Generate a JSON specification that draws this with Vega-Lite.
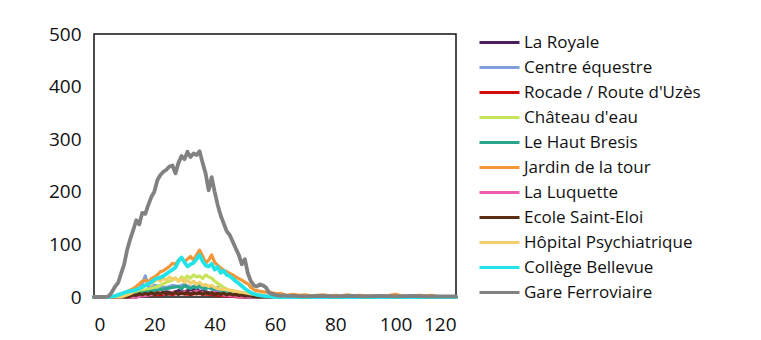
{
"$schema": "https://vega.github.io/schema/vega-lite/v6.json",
"autosize": "none",
"width": 362,
"height": 263,
"padding": {"left": 94, "top": 34, "right": 305, "bottom": 43},
"background": "#ffffff",
"config": {
  "view": {"stroke": "#111111", "strokeWidth": 1.5},
  "font": "Open Sans",
  "axis": {"grid": false, "ticks": false, "domain": false, "labelFont": "Open Sans", "labelFontSize": 19, "labelColor": "#111111", "title": null}
},
"data": {"values": [
{"s":"La Royale","x":0,"y":0},{"s":"La Royale","x":14,"y":0},{"s":"La Royale","x":16,"y":3},{"s":"La Royale","x":18,"y":5},{"s":"La Royale","x":20,"y":8},{"s":"La Royale","x":22,"y":6},{"s":"La Royale","x":24,"y":10},{"s":"La Royale","x":26,"y":8},{"s":"La Royale","x":28,"y":12},{"s":"La Royale","x":30,"y":10},{"s":"La Royale","x":32,"y":14},{"s":"La Royale","x":34,"y":16},{"s":"La Royale","x":35,"y":10},{"s":"La Royale","x":36,"y":12},{"s":"La Royale","x":38,"y":8},{"s":"La Royale","x":40,"y":6},{"s":"La Royale","x":42,"y":4},{"s":"La Royale","x":44,"y":3},{"s":"La Royale","x":46,"y":2},{"s":"La Royale","x":48,"y":1},{"s":"La Royale","x":50,"y":0},{"s":"La Royale","x":120,"y":0},
{"s":"Centre équestre","x":0,"y":0},{"s":"Centre équestre","x":9,"y":0},{"s":"Centre équestre","x":10,"y":2},{"s":"Centre équestre","x":12,"y":5},{"s":"Centre équestre","x":14,"y":10},{"s":"Centre équestre","x":15,"y":15},{"s":"Centre équestre","x":16,"y":25},{"s":"Centre équestre","x":17,"y":40},{"s":"Centre équestre","x":18,"y":20},{"s":"Centre équestre","x":19,"y":18},{"s":"Centre équestre","x":20,"y":22},{"s":"Centre équestre","x":22,"y":20},{"s":"Centre équestre","x":24,"y":18},{"s":"Centre équestre","x":26,"y":22},{"s":"Centre équestre","x":28,"y":20},{"s":"Centre équestre","x":30,"y":24},{"s":"Centre équestre","x":32,"y":18},{"s":"Centre équestre","x":34,"y":22},{"s":"Centre équestre","x":36,"y":16},{"s":"Centre équestre","x":38,"y":18},{"s":"Centre équestre","x":40,"y":12},{"s":"Centre équestre","x":42,"y":10},{"s":"Centre équestre","x":44,"y":8},{"s":"Centre équestre","x":46,"y":5},{"s":"Centre équestre","x":48,"y":3},{"s":"Centre équestre","x":50,"y":1},{"s":"Centre équestre","x":52,"y":0},{"s":"Centre équestre","x":120,"y":0},
{"s":"Rocade / Route d'Uzès","x":0,"y":0},{"s":"Rocade / Route d'Uzès","x":12,"y":0},{"s":"Rocade / Route d'Uzès","x":14,"y":2},{"s":"Rocade / Route d'Uzès","x":16,"y":3},{"s":"Rocade / Route d'Uzès","x":18,"y":4},{"s":"Rocade / Route d'Uzès","x":20,"y":5},{"s":"Rocade / Route d'Uzès","x":22,"y":4},{"s":"Rocade / Route d'Uzès","x":24,"y":6},{"s":"Rocade / Route d'Uzès","x":26,"y":5},{"s":"Rocade / Route d'Uzès","x":28,"y":7},{"s":"Rocade / Route d'Uzès","x":30,"y":6},{"s":"Rocade / Route d'Uzès","x":32,"y":5},{"s":"Rocade / Route d'Uzès","x":34,"y":7},{"s":"Rocade / Route d'Uzès","x":36,"y":6},{"s":"Rocade / Route d'Uzès","x":38,"y":5},{"s":"Rocade / Route d'Uzès","x":40,"y":4},{"s":"Rocade / Route d'Uzès","x":42,"y":3},{"s":"Rocade / Route d'Uzès","x":44,"y":2},{"s":"Rocade / Route d'Uzès","x":46,"y":1},{"s":"Rocade / Route d'Uzès","x":48,"y":0},{"s":"Rocade / Route d'Uzès","x":120,"y":0},
{"s":"Château d'eau","x":0,"y":0},{"s":"Château d'eau","x":9,"y":0},{"s":"Château d'eau","x":10,"y":2},{"s":"Château d'eau","x":12,"y":5},{"s":"Château d'eau","x":14,"y":8},{"s":"Château d'eau","x":16,"y":12},{"s":"Château d'eau","x":18,"y":15},{"s":"Château d'eau","x":20,"y":18},{"s":"Château d'eau","x":22,"y":22},{"s":"Château d'eau","x":24,"y":28},{"s":"Château d'eau","x":26,"y":32},{"s":"Château d'eau","x":27,"y":36},{"s":"Château d'eau","x":28,"y":30},{"s":"Château d'eau","x":29,"y":38},{"s":"Château d'eau","x":30,"y":35},{"s":"Château d'eau","x":31,"y":40},{"s":"Château d'eau","x":32,"y":36},{"s":"Château d'eau","x":33,"y":42},{"s":"Château d'eau","x":34,"y":38},{"s":"Château d'eau","x":35,"y":40},{"s":"Château d'eau","x":36,"y":35},{"s":"Château d'eau","x":37,"y":42},{"s":"Château d'eau","x":38,"y":38},{"s":"Château d'eau","x":39,"y":36},{"s":"Château d'eau","x":40,"y":30},{"s":"Château d'eau","x":41,"y":26},{"s":"Château d'eau","x":42,"y":22},{"s":"Château d'eau","x":43,"y":18},{"s":"Château d'eau","x":44,"y":15},{"s":"Château d'eau","x":45,"y":12},{"s":"Château d'eau","x":46,"y":9},{"s":"Château d'eau","x":48,"y":6},{"s":"Château d'eau","x":50,"y":3},{"s":"Château d'eau","x":52,"y":1},{"s":"Château d'eau","x":54,"y":0},{"s":"Château d'eau","x":120,"y":0},
{"s":"Le Haut Bresis","x":0,"y":0},{"s":"Le Haut Bresis","x":11,"y":0},{"s":"Le Haut Bresis","x":12,"y":2},{"s":"Le Haut Bresis","x":14,"y":5},{"s":"Le Haut Bresis","x":16,"y":8},{"s":"Le Haut Bresis","x":18,"y":10},{"s":"Le Haut Bresis","x":20,"y":12},{"s":"Le Haut Bresis","x":22,"y":14},{"s":"Le Haut Bresis","x":24,"y":16},{"s":"Le Haut Bresis","x":26,"y":18},{"s":"Le Haut Bresis","x":28,"y":20},{"s":"Le Haut Bresis","x":29,"y":15},{"s":"Le Haut Bresis","x":30,"y":22},{"s":"Le Haut Bresis","x":31,"y":18},{"s":"Le Haut Bresis","x":32,"y":16},{"s":"Le Haut Bresis","x":33,"y":20},{"s":"Le Haut Bresis","x":34,"y":17},{"s":"Le Haut Bresis","x":35,"y":22},{"s":"Le Haut Bresis","x":36,"y":18},{"s":"Le Haut Bresis","x":37,"y":15},{"s":"Le Haut Bresis","x":38,"y":20},{"s":"Le Haut Bresis","x":39,"y":16},{"s":"Le Haut Bresis","x":40,"y":14},{"s":"Le Haut Bresis","x":41,"y":18},{"s":"Le Haut Bresis","x":42,"y":12},{"s":"Le Haut Bresis","x":43,"y":10},{"s":"Le Haut Bresis","x":44,"y":8},{"s":"Le Haut Bresis","x":46,"y":5},{"s":"Le Haut Bresis","x":48,"y":3},{"s":"Le Haut Bresis","x":50,"y":1},{"s":"Le Haut Bresis","x":52,"y":0},{"s":"Le Haut Bresis","x":120,"y":0},
{"s":"Jardin de la tour","x":0,"y":0},{"s":"Jardin de la tour","x":7,"y":0},{"s":"Jardin de la tour","x":8,"y":2},{"s":"Jardin de la tour","x":9,"y":5},{"s":"Jardin de la tour","x":10,"y":8},{"s":"Jardin de la tour","x":11,"y":10},{"s":"Jardin de la tour","x":12,"y":13},{"s":"Jardin de la tour","x":13,"y":16},{"s":"Jardin de la tour","x":14,"y":20},{"s":"Jardin de la tour","x":15,"y":25},{"s":"Jardin de la tour","x":16,"y":30},{"s":"Jardin de la tour","x":17,"y":32},{"s":"Jardin de la tour","x":18,"y":28},{"s":"Jardin de la tour","x":19,"y":35},{"s":"Jardin de la tour","x":20,"y":38},{"s":"Jardin de la tour","x":21,"y":42},{"s":"Jardin de la tour","x":22,"y":48},{"s":"Jardin de la tour","x":23,"y":50},{"s":"Jardin de la tour","x":24,"y":54},{"s":"Jardin de la tour","x":25,"y":58},{"s":"Jardin de la tour","x":26,"y":64},{"s":"Jardin de la tour","x":27,"y":62},{"s":"Jardin de la tour","x":28,"y":70},{"s":"Jardin de la tour","x":29,"y":74},{"s":"Jardin de la tour","x":30,"y":67},{"s":"Jardin de la tour","x":31,"y":72},{"s":"Jardin de la tour","x":32,"y":77},{"s":"Jardin de la tour","x":33,"y":70},{"s":"Jardin de la tour","x":34,"y":80},{"s":"Jardin de la tour","x":35,"y":89},{"s":"Jardin de la tour","x":36,"y":78},{"s":"Jardin de la tour","x":37,"y":64},{"s":"Jardin de la tour","x":38,"y":70},{"s":"Jardin de la tour","x":39,"y":80},{"s":"Jardin de la tour","x":40,"y":66},{"s":"Jardin de la tour","x":41,"y":60},{"s":"Jardin de la tour","x":42,"y":55},{"s":"Jardin de la tour","x":43,"y":51},{"s":"Jardin de la tour","x":44,"y":48},{"s":"Jardin de la tour","x":45,"y":45},{"s":"Jardin de la tour","x":46,"y":42},{"s":"Jardin de la tour","x":47,"y":38},{"s":"Jardin de la tour","x":48,"y":35},{"s":"Jardin de la tour","x":49,"y":32},{"s":"Jardin de la tour","x":50,"y":28},{"s":"Jardin de la tour","x":51,"y":25},{"s":"Jardin de la tour","x":52,"y":18},{"s":"Jardin de la tour","x":53,"y":14},{"s":"Jardin de la tour","x":54,"y":12},{"s":"Jardin de la tour","x":55,"y":11},{"s":"Jardin de la tour","x":56,"y":10},{"s":"Jardin de la tour","x":57,"y":9},{"s":"Jardin de la tour","x":58,"y":10},{"s":"Jardin de la tour","x":59,"y":8},{"s":"Jardin de la tour","x":60,"y":7},{"s":"Jardin de la tour","x":61,"y":6},{"s":"Jardin de la tour","x":62,"y":7},{"s":"Jardin de la tour","x":63,"y":4},{"s":"Jardin de la tour","x":64,"y":3},{"s":"Jardin de la tour","x":66,"y":5},{"s":"Jardin de la tour","x":68,"y":3},{"s":"Jardin de la tour","x":70,"y":4},{"s":"Jardin de la tour","x":72,"y":2},{"s":"Jardin de la tour","x":74,"y":3},{"s":"Jardin de la tour","x":76,"y":4},{"s":"Jardin de la tour","x":78,"y":2},{"s":"Jardin de la tour","x":80,"y":3},{"s":"Jardin de la tour","x":82,"y":2},{"s":"Jardin de la tour","x":84,"y":4},{"s":"Jardin de la tour","x":86,"y":2},{"s":"Jardin de la tour","x":88,"y":3},{"s":"Jardin de la tour","x":90,"y":2},{"s":"Jardin de la tour","x":92,"y":2},{"s":"Jardin de la tour","x":94,"y":2},{"s":"Jardin de la tour","x":96,"y":1},{"s":"Jardin de la tour","x":98,"y":3},{"s":"Jardin de la tour","x":100,"y":5},{"s":"Jardin de la tour","x":102,"y":2},{"s":"Jardin de la tour","x":104,"y":1},{"s":"Jardin de la tour","x":106,"y":2},{"s":"Jardin de la tour","x":108,"y":3},{"s":"Jardin de la tour","x":110,"y":2},{"s":"Jardin de la tour","x":112,"y":3},{"s":"Jardin de la tour","x":114,"y":1},{"s":"Jardin de la tour","x":116,"y":0},{"s":"Jardin de la tour","x":120,"y":0},
{"s":"La Luquette","x":0,"y":0},{"s":"La Luquette","x":14,"y":0},{"s":"La Luquette","x":16,"y":2},{"s":"La Luquette","x":18,"y":4},{"s":"La Luquette","x":20,"y":6},{"s":"La Luquette","x":22,"y":8},{"s":"La Luquette","x":24,"y":5},{"s":"La Luquette","x":26,"y":9},{"s":"La Luquette","x":28,"y":6},{"s":"La Luquette","x":30,"y":10},{"s":"La Luquette","x":32,"y":7},{"s":"La Luquette","x":34,"y":11},{"s":"La Luquette","x":36,"y":8},{"s":"La Luquette","x":38,"y":6},{"s":"La Luquette","x":40,"y":9},{"s":"La Luquette","x":42,"y":5},{"s":"La Luquette","x":44,"y":3},{"s":"La Luquette","x":46,"y":2},{"s":"La Luquette","x":48,"y":1},{"s":"La Luquette","x":50,"y":0},{"s":"La Luquette","x":120,"y":0},
{"s":"Ecole Saint-Eloi","x":0,"y":0},{"s":"Ecole Saint-Eloi","x":11,"y":0},{"s":"Ecole Saint-Eloi","x":12,"y":2},{"s":"Ecole Saint-Eloi","x":13,"y":4},{"s":"Ecole Saint-Eloi","x":14,"y":3},{"s":"Ecole Saint-Eloi","x":15,"y":6},{"s":"Ecole Saint-Eloi","x":16,"y":4},{"s":"Ecole Saint-Eloi","x":17,"y":7},{"s":"Ecole Saint-Eloi","x":18,"y":5},{"s":"Ecole Saint-Eloi","x":19,"y":8},{"s":"Ecole Saint-Eloi","x":20,"y":5},{"s":"Ecole Saint-Eloi","x":21,"y":8},{"s":"Ecole Saint-Eloi","x":22,"y":6},{"s":"Ecole Saint-Eloi","x":23,"y":9},{"s":"Ecole Saint-Eloi","x":24,"y":5},{"s":"Ecole Saint-Eloi","x":25,"y":8},{"s":"Ecole Saint-Eloi","x":26,"y":6},{"s":"Ecole Saint-Eloi","x":27,"y":9},{"s":"Ecole Saint-Eloi","x":28,"y":5},{"s":"Ecole Saint-Eloi","x":29,"y":8},{"s":"Ecole Saint-Eloi","x":30,"y":6},{"s":"Ecole Saint-Eloi","x":31,"y":9},{"s":"Ecole Saint-Eloi","x":32,"y":5},{"s":"Ecole Saint-Eloi","x":33,"y":8},{"s":"Ecole Saint-Eloi","x":34,"y":6},{"s":"Ecole Saint-Eloi","x":35,"y":9},{"s":"Ecole Saint-Eloi","x":36,"y":5},{"s":"Ecole Saint-Eloi","x":37,"y":8},{"s":"Ecole Saint-Eloi","x":38,"y":6},{"s":"Ecole Saint-Eloi","x":39,"y":8},{"s":"Ecole Saint-Eloi","x":40,"y":5},{"s":"Ecole Saint-Eloi","x":41,"y":7},{"s":"Ecole Saint-Eloi","x":42,"y":5},{"s":"Ecole Saint-Eloi","x":43,"y":7},{"s":"Ecole Saint-Eloi","x":44,"y":4},{"s":"Ecole Saint-Eloi","x":45,"y":6},{"s":"Ecole Saint-Eloi","x":46,"y":4},{"s":"Ecole Saint-Eloi","x":47,"y":5},{"s":"Ecole Saint-Eloi","x":48,"y":3},{"s":"Ecole Saint-Eloi","x":49,"y":4},{"s":"Ecole Saint-Eloi","x":50,"y":2},{"s":"Ecole Saint-Eloi","x":51,"y":3},{"s":"Ecole Saint-Eloi","x":52,"y":2},{"s":"Ecole Saint-Eloi","x":53,"y":1},{"s":"Ecole Saint-Eloi","x":54,"y":0},{"s":"Ecole Saint-Eloi","x":120,"y":0},
{"s":"Hôpital Psychiatrique","x":0,"y":0},{"s":"Hôpital Psychiatrique","x":9,"y":0},{"s":"Hôpital Psychiatrique","x":10,"y":2},{"s":"Hôpital Psychiatrique","x":12,"y":6},{"s":"Hôpital Psychiatrique","x":14,"y":12},{"s":"Hôpital Psychiatrique","x":16,"y":18},{"s":"Hôpital Psychiatrique","x":17,"y":22},{"s":"Hôpital Psychiatrique","x":18,"y":26},{"s":"Hôpital Psychiatrique","x":19,"y":24},{"s":"Hôpital Psychiatrique","x":20,"y":30},{"s":"Hôpital Psychiatrique","x":21,"y":34},{"s":"Hôpital Psychiatrique","x":22,"y":30},{"s":"Hôpital Psychiatrique","x":23,"y":36},{"s":"Hôpital Psychiatrique","x":24,"y":32},{"s":"Hôpital Psychiatrique","x":25,"y":38},{"s":"Hôpital Psychiatrique","x":26,"y":34},{"s":"Hôpital Psychiatrique","x":27,"y":36},{"s":"Hôpital Psychiatrique","x":28,"y":30},{"s":"Hôpital Psychiatrique","x":29,"y":34},{"s":"Hôpital Psychiatrique","x":30,"y":28},{"s":"Hôpital Psychiatrique","x":31,"y":32},{"s":"Hôpital Psychiatrique","x":32,"y":26},{"s":"Hôpital Psychiatrique","x":33,"y":30},{"s":"Hôpital Psychiatrique","x":34,"y":24},{"s":"Hôpital Psychiatrique","x":35,"y":28},{"s":"Hôpital Psychiatrique","x":36,"y":22},{"s":"Hôpital Psychiatrique","x":37,"y":24},{"s":"Hôpital Psychiatrique","x":38,"y":20},{"s":"Hôpital Psychiatrique","x":39,"y":22},{"s":"Hôpital Psychiatrique","x":40,"y":18},{"s":"Hôpital Psychiatrique","x":42,"y":15},{"s":"Hôpital Psychiatrique","x":44,"y":14},{"s":"Hôpital Psychiatrique","x":46,"y":12},{"s":"Hôpital Psychiatrique","x":48,"y":10},{"s":"Hôpital Psychiatrique","x":50,"y":8},{"s":"Hôpital Psychiatrique","x":52,"y":6},{"s":"Hôpital Psychiatrique","x":54,"y":5},{"s":"Hôpital Psychiatrique","x":56,"y":3},{"s":"Hôpital Psychiatrique","x":58,"y":1},{"s":"Hôpital Psychiatrique","x":60,"y":0},{"s":"Hôpital Psychiatrique","x":120,"y":0},
{"s":"Collège Bellevue","x":0,"y":0},{"s":"Collège Bellevue","x":5,"y":0},{"s":"Collège Bellevue","x":6,"y":1},{"s":"Collège Bellevue","x":7,"y":2},{"s":"Collège Bellevue","x":8,"y":4},{"s":"Collège Bellevue","x":9,"y":6},{"s":"Collège Bellevue","x":10,"y":8},{"s":"Collège Bellevue","x":11,"y":10},{"s":"Collège Bellevue","x":12,"y":11},{"s":"Collège Bellevue","x":13,"y":12},{"s":"Collège Bellevue","x":14,"y":14},{"s":"Collège Bellevue","x":15,"y":16},{"s":"Collège Bellevue","x":16,"y":19},{"s":"Collège Bellevue","x":17,"y":22},{"s":"Collège Bellevue","x":18,"y":25},{"s":"Collège Bellevue","x":19,"y":28},{"s":"Collège Bellevue","x":20,"y":33},{"s":"Collège Bellevue","x":21,"y":36},{"s":"Collège Bellevue","x":22,"y":37},{"s":"Collège Bellevue","x":23,"y":40},{"s":"Collège Bellevue","x":24,"y":44},{"s":"Collège Bellevue","x":25,"y":48},{"s":"Collège Bellevue","x":26,"y":52},{"s":"Collège Bellevue","x":27,"y":56},{"s":"Collège Bellevue","x":28,"y":68},{"s":"Collège Bellevue","x":29,"y":75},{"s":"Collège Bellevue","x":30,"y":66},{"s":"Collège Bellevue","x":31,"y":58},{"s":"Collège Bellevue","x":32,"y":62},{"s":"Collège Bellevue","x":33,"y":65},{"s":"Collège Bellevue","x":34,"y":72},{"s":"Collège Bellevue","x":35,"y":80},{"s":"Collège Bellevue","x":36,"y":68},{"s":"Collège Bellevue","x":37,"y":60},{"s":"Collège Bellevue","x":38,"y":58},{"s":"Collège Bellevue","x":39,"y":63},{"s":"Collège Bellevue","x":40,"y":52},{"s":"Collège Bellevue","x":41,"y":57},{"s":"Collège Bellevue","x":42,"y":46},{"s":"Collège Bellevue","x":43,"y":50},{"s":"Collège Bellevue","x":44,"y":42},{"s":"Collège Bellevue","x":45,"y":40},{"s":"Collège Bellevue","x":46,"y":35},{"s":"Collège Bellevue","x":47,"y":30},{"s":"Collège Bellevue","x":48,"y":26},{"s":"Collège Bellevue","x":49,"y":21},{"s":"Collège Bellevue","x":50,"y":16},{"s":"Collège Bellevue","x":51,"y":12},{"s":"Collège Bellevue","x":52,"y":8},{"s":"Collège Bellevue","x":53,"y":6},{"s":"Collège Bellevue","x":54,"y":4},{"s":"Collège Bellevue","x":55,"y":3},{"s":"Collège Bellevue","x":56,"y":2},{"s":"Collège Bellevue","x":57,"y":1},{"s":"Collège Bellevue","x":58,"y":1},{"s":"Collège Bellevue","x":60,"y":0},{"s":"Collège Bellevue","x":120,"y":0},
{"s":"Gare Ferroviaire","x":0,"y":0},{"s":"Gare Ferroviaire","x":4,"y":0},{"s":"Gare Ferroviaire","x":5,"y":2},{"s":"Gare Ferroviaire","x":6,"y":10},{"s":"Gare Ferroviaire","x":7,"y":20},{"s":"Gare Ferroviaire","x":8,"y":27},{"s":"Gare Ferroviaire","x":9,"y":45},{"s":"Gare Ferroviaire","x":10,"y":62},{"s":"Gare Ferroviaire","x":11,"y":90},{"s":"Gare Ferroviaire","x":12,"y":110},{"s":"Gare Ferroviaire","x":13,"y":127},{"s":"Gare Ferroviaire","x":14,"y":146},{"s":"Gare Ferroviaire","x":15,"y":138},{"s":"Gare Ferroviaire","x":16,"y":160},{"s":"Gare Ferroviaire","x":17,"y":158},{"s":"Gare Ferroviaire","x":18,"y":175},{"s":"Gare Ferroviaire","x":19,"y":190},{"s":"Gare Ferroviaire","x":20,"y":200},{"s":"Gare Ferroviaire","x":21,"y":222},{"s":"Gare Ferroviaire","x":22,"y":232},{"s":"Gare Ferroviaire","x":23,"y":238},{"s":"Gare Ferroviaire","x":24,"y":242},{"s":"Gare Ferroviaire","x":25,"y":248},{"s":"Gare Ferroviaire","x":26,"y":250},{"s":"Gare Ferroviaire","x":27,"y":235},{"s":"Gare Ferroviaire","x":28,"y":255},{"s":"Gare Ferroviaire","x":29,"y":268},{"s":"Gare Ferroviaire","x":30,"y":262},{"s":"Gare Ferroviaire","x":31,"y":276},{"s":"Gare Ferroviaire","x":32,"y":266},{"s":"Gare Ferroviaire","x":33,"y":273},{"s":"Gare Ferroviaire","x":34,"y":270},{"s":"Gare Ferroviaire","x":35,"y":277},{"s":"Gare Ferroviaire","x":36,"y":255},{"s":"Gare Ferroviaire","x":37,"y":235},{"s":"Gare Ferroviaire","x":38,"y":203},{"s":"Gare Ferroviaire","x":39,"y":228},{"s":"Gare Ferroviaire","x":40,"y":200},{"s":"Gare Ferroviaire","x":41,"y":175},{"s":"Gare Ferroviaire","x":42,"y":155},{"s":"Gare Ferroviaire","x":43,"y":140},{"s":"Gare Ferroviaire","x":44,"y":125},{"s":"Gare Ferroviaire","x":45,"y":118},{"s":"Gare Ferroviaire","x":46,"y":105},{"s":"Gare Ferroviaire","x":47,"y":92},{"s":"Gare Ferroviaire","x":48,"y":80},{"s":"Gare Ferroviaire","x":49,"y":62},{"s":"Gare Ferroviaire","x":50,"y":72},{"s":"Gare Ferroviaire","x":51,"y":45},{"s":"Gare Ferroviaire","x":52,"y":30},{"s":"Gare Ferroviaire","x":53,"y":22},{"s":"Gare Ferroviaire","x":54,"y":20},{"s":"Gare Ferroviaire","x":55,"y":24},{"s":"Gare Ferroviaire","x":56,"y":22},{"s":"Gare Ferroviaire","x":57,"y":18},{"s":"Gare Ferroviaire","x":58,"y":8},{"s":"Gare Ferroviaire","x":59,"y":6},{"s":"Gare Ferroviaire","x":60,"y":4},{"s":"Gare Ferroviaire","x":61,"y":3},{"s":"Gare Ferroviaire","x":62,"y":2},{"s":"Gare Ferroviaire","x":63,"y":3},{"s":"Gare Ferroviaire","x":64,"y":2},{"s":"Gare Ferroviaire","x":66,"y":2},{"s":"Gare Ferroviaire","x":70,"y":1},{"s":"Gare Ferroviaire","x":75,"y":2},{"s":"Gare Ferroviaire","x":80,"y":1},{"s":"Gare Ferroviaire","x":85,"y":2},{"s":"Gare Ferroviaire","x":90,"y":1},{"s":"Gare Ferroviaire","x":95,"y":2},{"s":"Gare Ferroviaire","x":100,"y":1},{"s":"Gare Ferroviaire","x":105,"y":2},{"s":"Gare Ferroviaire","x":110,"y":1},{"s":"Gare Ferroviaire","x":115,"y":1},{"s":"Gare Ferroviaire","x":120,"y":1}
]},
"mark": {"type": "line", "strokeJoin": "round", "strokeCap": "round", "clip": false},
"encoding": {
  "x": {"field": "x", "type": "quantitative", "scale": {"domain": [0, 120], "nice": false, "zero": true}, "axis": {"values": [0, 20, 40, 60, 80, 100, 120], "labelPadding": 18}},
  "y": {"field": "y", "type": "quantitative", "scale": {"domain": [0, 500], "nice": false}, "axis": {"values": [0, 100, 200, 300, 400, 500], "labelPadding": 13}},
  "color": {"field": "s", "type": "nominal",
    "scale": {
      "domain": ["La Royale", "Centre équestre", "Rocade / Route d'Uzès", "Château d'eau", "Le Haut Bresis", "Jardin de la tour", "La Luquette", "Ecole Saint-Eloi", "Hôpital Psychiatrique", "Collège Bellevue", "Gare Ferroviaire"],
      "range": ["#4e1d5c", "#7fa0d8", "#d10a0a", "#c8e35c", "#2aa68b", "#f39638", "#ef5db0", "#5a2e14", "#f3cf6c", "#22e3e8", "#818181"]
    },
    "legend": {"title": null, "orient": "none", "legendX": 394, "legendY": -3, "symbolType": "M-2,0H2", "symbolSize": 400, "symbolStrokeWidth": 3, "symbolFillColor": "transparent", "labelFont": "Open Sans", "labelFontSize": 17, "labelLimit": 300, "labelColor": "#111111", "labelOffset": 13, "rowPadding": 5}
  },
  "strokeWidth": {"condition": {"test": "datum.s === 'Gare Ferroviaire' || datum.s === 'Collège Bellevue'", "value": 3.8}, "value": 3.2}
}
}
